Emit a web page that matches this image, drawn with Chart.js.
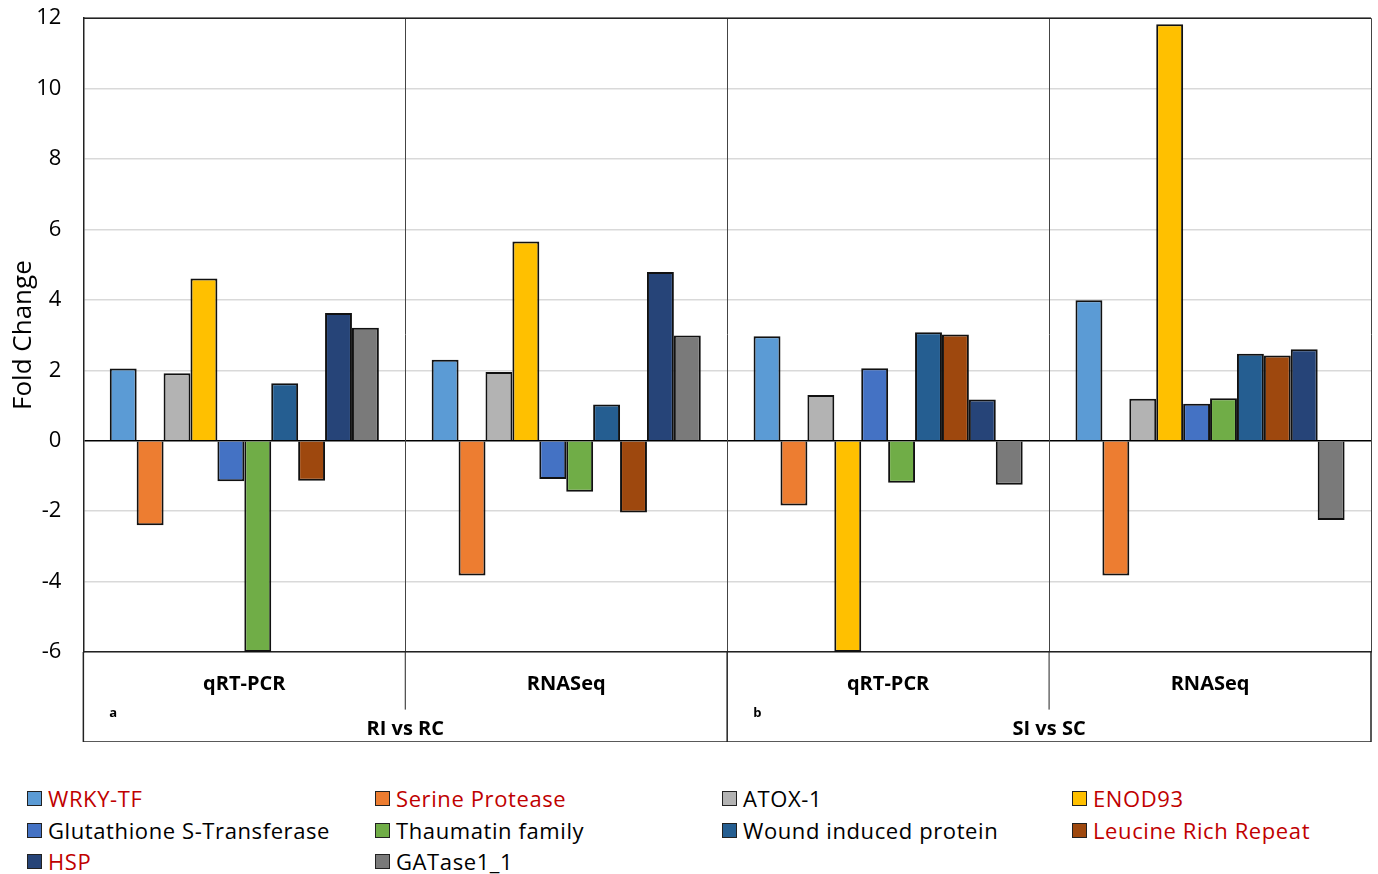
<!DOCTYPE html>
<html>
<head>
<meta charset="utf-8">
<script src="https://cdn.jsdelivr.net/npm/chart.js@4.4.1/dist/chart.umd.min.js"></script>
<style>
  html, body { margin: 0; padding: 0; background: #fff; overflow: hidden; }
  #wrap { position: relative; width: 1378px; height: 874px; overflow: hidden; }
  #chartBox { position: absolute; left: 0; top: -17px; width: 1378px; height: 759px; }
  #legend { position: absolute; left: 0; top: 784px; width: 1378px; font-family: "Open Sans", sans-serif; font-size: 22px; letter-spacing: 0.6px; }
  .item { position: absolute; display: flex; align-items: center; white-space: nowrap; line-height: 28px; }
  .box { width: 13px; height: 13px; border: 1.5px solid #222; margin-right: 6px; }
</style>
</head>
<body>
<div id="wrap">
  <div id="chartBox"><canvas id="c"></canvas></div>
  <div id="legend"></div>
</div>
<script>
// ---- data ----
const categories = ['qRT-PCR', 'RNASeq', 'qRT-PCR', 'RNASeq'];
const groups = ['RI vs RC', 'SI vs SC'];
const panelTags = ['a', 'b'];
const seriesNames = ['WRKY-TF', 'Serine Protease', 'ATOX-1', 'ENOD93', 'Glutathione S-Transferase',
  'Thaumatin family', 'Wound induced protein', 'Leucine Rich Repeat', 'HSP', 'GATase1_1'];
const wrkyTF       = [2.05, 2.30, 2.97, 3.99];
const serineProt   = [-2.40, -3.83, -1.84, -3.83];
const atox1        = [1.92, 1.95, 1.30, 1.19];
const enod93       = [4.61, 5.66, -6.0, 11.83];
const gst          = [-1.15, -1.09, 2.06, 1.05];
const thaumatin    = [-6.0, -1.45, -1.19, 1.21];
const wound        = [1.63, 1.03, 3.08, 2.47];
const lrr          = [-1.14, -2.04, 3.02, 2.42];
const hsp          = [3.63, 4.79, 1.17, 2.60];
const gatase       = [3.21, 2.99, -1.25, -2.25];
const seriesValues = [wrkyTF, serineProt, atox1, enod93, gst, thaumatin, wound, lrr, hsp, gatase];
const seriesColors = ['#5B9BD5', '#ED7D31', '#B3B3B3', '#FFC000', '#4472C4', '#70AD47', '#255E91', '#9E480E', '#264478', '#7A7A7A'];
const seriesRed = [true, true, false, true, false, false, false, true, true, false];
const yTicks = { min: -6, max: 12, step: 2 };

const FONT = '"Open Sans", sans-serif';

const datasets = seriesNames.map((n, i) => ({
  label: n,
  data: seriesValues[i],
  backgroundColor: seriesColors[i],
  borderColor: '#111',
  borderWidth: 2,
  barPercentage: 1.0,
  categoryPercentage: 0.836
}));

const framePlugin = {
  id: 'frame',
  afterDraw(chart) {
    const ctx = chart.ctx, ca = chart.chartArea, xs = chart.scales.x, x2 = chart.scales.x2;
    const n = categories.length;
    const bottomY = x2.bottom;
    const midY = ca.bottom + (bottomY - ca.bottom) * 0.64;
    ctx.save();
    ctx.strokeStyle = '#222';
    ctx.lineWidth = 1.5;
    ctx.beginPath(); ctx.moveTo(ca.left, ca.top); ctx.lineTo(ca.right, ca.top); ctx.stroke();
    ctx.beginPath(); ctx.moveTo(ca.left, bottomY); ctx.lineTo(ca.right, bottomY); ctx.stroke();
    for (let i = 0; i <= n; i++) {
      let xb;
      if (i === 0) xb = ca.left; else if (i === n) xb = ca.right;
      else xb = (xs.getPixelForValue(i - 1) + xs.getPixelForValue(i)) / 2;
      const groupEdge = (i % 2 === 0);
      ctx.lineWidth = groupEdge ? 1.5 : 1;
      ctx.beginPath();
      ctx.moveTo(xb, ca.bottom);
      ctx.lineTo(xb, groupEdge ? bottomY : midY);
      ctx.stroke();
    }
    ctx.fillStyle = '#000';
    ctx.font = 'bold 13px ' + FONT;
    ctx.textBaseline = 'middle';
    ctx.textAlign = 'left';
    panelTags.forEach((t, g) => {
      const left = g === 0 ? ca.left : (xs.getPixelForValue(2 * g - 1) + xs.getPixelForValue(2 * g)) / 2;
      ctx.fillText(t, left + 26, ca.bottom + 61);
    });
    ctx.restore();
  }
};

new Chart(document.getElementById('c'), {
  type: 'bar',
  data: { labels: categories, datasets },
  plugins: [framePlugin],
  options: {
    responsive: true,
    maintainAspectRatio: false,
    animation: false,
    layout: { padding: { top: 4, right: 7, bottom: 0, left: 8 } },
    plugins: { legend: { display: false }, tooltip: { enabled: false } },
    scales: {
      y: {
        min: yTicks.min, max: yTicks.max,
        ticks: { stepSize: yTicks.step, color: '#000', font: { family: FONT, size: 22 }, padding: 22 },
        grid: {
          color: (c) => (c.tick && c.tick.value === 0) ? '#000' : '#D9D9D9',
          lineWidth: 1.5,
          drawTicks: false
        },
        border: { display: true, color: '#222', width: 1.5 },
        title: { display: true, text: 'Fold Change', color: '#000', font: { family: FONT, size: 26 }, padding: { top: 0, bottom: -25 } }
      },
      x: {
        offset: true,
        ticks: { color: '#000', font: { family: FONT, size: 20, weight: 'bold' }, padding: 20, maxRotation: 0 },
        grid: { offset: true, color: '#444', lineWidth: 1, drawTicks: false },
        border: { display: true, color: '#222', width: 1.5 }
      },
      x2: {
        type: 'category',
        labels: groups,
        position: 'bottom',
        offset: true,
        ticks: { color: '#000', font: { family: FONT, size: 20, weight: 'bold' }, padding: 1, maxRotation: 0 },
        grid: { display: false, drawTicks: false },
        border: { display: false }
      }
    }
  }
});

const legend = document.getElementById('legend');
const colX = [27, 375, 722, 1072];
const rowY = [0, 32, 63];
seriesNames.forEach((n, i) => {
  const d = document.createElement('div');
  d.className = 'item';
  d.style.left = colX[i % 4] + 'px';
  d.style.top = rowY[Math.floor(i / 4)] + 'px';
  const b = document.createElement('div');
  b.className = 'box';
  b.style.background = seriesColors[i];
  const s = document.createElement('span');
  s.textContent = n;
  s.style.color = seriesRed[i] ? '#C00000' : '#000';
  d.appendChild(b); d.appendChild(s);
  legend.appendChild(d);
});
</script>
</body>
</html>
